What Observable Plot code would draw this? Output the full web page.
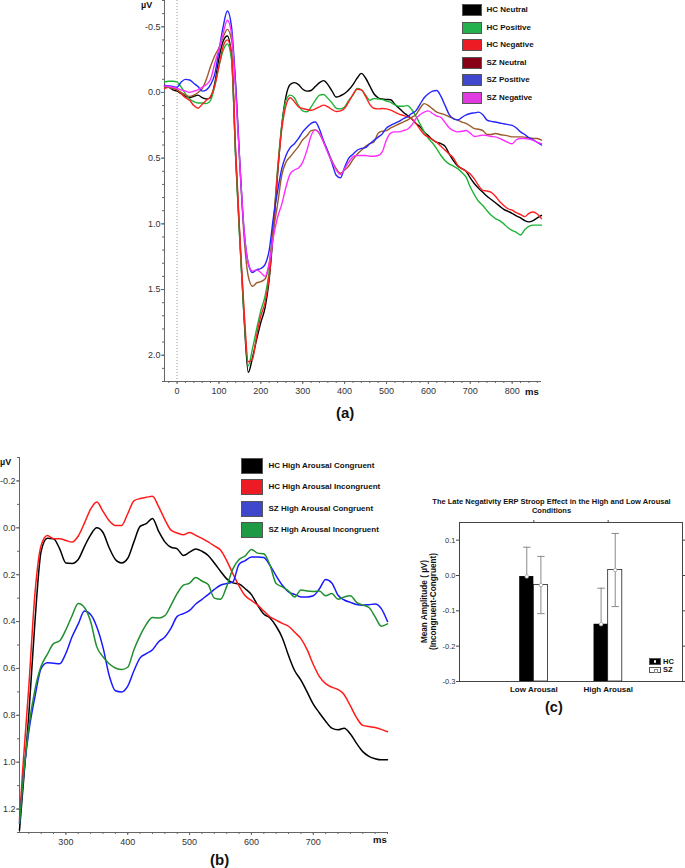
<!DOCTYPE html>
<html><head><meta charset="utf-8">
<script src="https://cdn.jsdelivr.net/npm/d3@7"></script>
<script src="https://cdn.jsdelivr.net/npm/@observablehq/plot@0.6"></script>
<style>
body{margin:0;background:#fff;font-family:"Liberation Sans",Arial,sans-serif;}
#page{position:relative;width:685px;height:868px;overflow:hidden;background:#fff;}
.abs{position:absolute;white-space:nowrap;}
.bold{font-weight:bold;color:#111;}
.sw{position:absolute;box-sizing:border-box;border:1px solid #555;}
</style></head><body><div id="page"></div>
<script>
// ---------- Panel (a) data ----------
const timesA = [-30,-20,-10,0,10,20,30,40,50,60,70,80,90,100,110,120,130,140,150,160,170,180,190,200,210,220,230,240,250,260,270,280,290,300,310,320,330,340,350,360,370,380,390,400,410,420,430,440,450,460,470,480,490,500,510,520,530,540,550,560,570,580,590,600,610,620,630,640,650,660,670,680,690,700,710,720,730,740,750,760,770,780,790,800,810,820,830,840,850,860,870];
const seriesA = ["HC Neutral","HC Positive","HC Negative","SZ Neutral","SZ Positive","SZ Negative"];
const lineColorsA = ["#000000","#1db336","#ff1f1f","#9b5a2a","#2424ff","#ff2eff"];
const swatchColorsA = ["#000000","#22b14c","#ed1c24","#880015","#3f48cc","#e03ae0"];
const hcNeutralA = [-0.05,-0.04,-0.02,-0.01,0.01,0.03,0.04,0.03,0.02,0.04,0.05,0.04,-0.07,-0.26,-0.39,-0.43,-0.28,0.5,1.12,1.72,2.13,2.02,1.88,1.75,1.64,1.42,1.05,0.62,0.25,0.03,-0.06,-0.075,-0.06,-0.025,-0.01,-0.015,-0.045,-0.075,-0.09,-0.06,-0.01,0.035,0.025,0.008,-0.02,-0.06,-0.11,-0.145,-0.11,-0.05,0.01,0.04,0.05,0.053,0.055,0.09,0.12,0.15,0.175,0.2,0.235,0.26,0.3,0.33,0.36,0.38,0.39,0.41,0.47,0.52,0.56,0.58,0.6,0.65,0.695,0.73,0.76,0.79,0.815,0.84,0.865,0.89,0.905,0.92,0.94,0.955,0.975,0.985,0.975,0.955,0.935];
const hcPositiveA = [-0.08,-0.085,-0.085,-0.08,-0.04,0.01,0.05,0.07,0.08,0.08,0.085,0.06,-0.05,-0.2,-0.32,-0.37,-0.25,0.5,1.15,1.7,2.08,1.95,1.8,1.66,1.55,1.36,1.0,0.58,0.25,0.06,0.02,0.04,0.1,0.14,0.147,0.11,0.06,0.02,0.015,0.045,0.08,0.12,0.125,0.11,0.06,0.02,-0.03,-0.02,0.02,0.06,0.046,0.05,0.055,0.065,0.075,0.095,0.105,0.105,0.1,0.13,0.18,0.24,0.3,0.35,0.385,0.43,0.48,0.52,0.545,0.56,0.58,0.61,0.645,0.72,0.78,0.83,0.86,0.9,0.935,0.96,0.975,1.0,1.03,1.05,1.065,1.085,1.045,1.02,1.01,1.01,1.01];
const hcNegativeA = [-0.03,-0.04,-0.03,-0.02,0.01,0.04,0.06,0.1,0.12,0.09,0.06,0.03,-0.05,-0.2,-0.35,-0.4,-0.3,0.45,1.1,1.66,2.05,2.03,1.85,1.7,1.6,1.4,1.02,0.6,0.28,0.1,0.04,0.07,0.11,0.122,0.13,0.135,0.125,0.11,0.096,0.11,0.13,0.145,0.14,0.12,0.07,0.015,-0.025,-0.02,0.03,0.09,0.12,0.125,0.122,0.125,0.135,0.15,0.165,0.175,0.185,0.2,0.235,0.28,0.32,0.34,0.36,0.38,0.41,0.44,0.47,0.5,0.555,0.58,0.6,0.62,0.66,0.71,0.745,0.75,0.76,0.79,0.83,0.86,0.885,0.896,0.915,0.93,0.945,0.92,0.91,0.925,0.96];
const szNeutralA = [-0.04,-0.04,-0.03,-0.02,0.0,0.02,0.03,0.02,0.0,-0.03,-0.1,-0.2,-0.28,-0.34,-0.42,-0.48,-0.4,-0.05,0.55,1.1,1.4,1.475,1.45,1.44,1.42,1.3,1.05,0.85,0.63,0.53,0.49,0.45,0.41,0.36,0.33,0.29,0.285,0.315,0.38,0.45,0.52,0.58,0.615,0.59,0.56,0.51,0.47,0.44,0.41,0.39,0.376,0.31,0.295,0.29,0.27,0.255,0.24,0.225,0.21,0.19,0.17,0.12,0.085,0.1,0.125,0.15,0.16,0.17,0.185,0.2,0.21,0.225,0.236,0.255,0.275,0.28,0.29,0.32,0.32,0.312,0.32,0.325,0.33,0.338,0.338,0.338,0.34,0.345,0.35,0.35,0.363];
const szPositiveA = [-0.055,-0.05,-0.045,-0.04,-0.08,-0.1,-0.095,-0.07,-0.045,-0.01,-0.02,-0.06,-0.14,-0.32,-0.5,-0.62,-0.5,-0.05,0.55,1.05,1.3,1.37,1.35,1.34,1.31,1.2,0.95,0.75,0.58,0.48,0.42,0.39,0.35,0.3,0.265,0.235,0.225,0.28,0.37,0.45,0.54,0.63,0.65,0.57,0.5,0.47,0.44,0.426,0.42,0.39,0.365,0.34,0.315,0.27,0.25,0.235,0.22,0.2,0.185,0.16,0.14,0.09,0.04,0.01,-0.01,-0.015,0.03,0.1,0.17,0.2,0.21,0.19,0.17,0.16,0.155,0.15,0.17,0.21,0.22,0.225,0.232,0.238,0.245,0.25,0.27,0.3,0.32,0.345,0.36,0.38,0.4];
const szNegativeA = [-0.05,-0.045,-0.04,-0.03,-0.02,-0.01,0.0,-0.01,-0.02,-0.04,-0.06,-0.1,-0.22,-0.33,-0.45,-0.55,-0.45,0.0,0.55,1.05,1.3,1.36,1.35,1.37,1.4,1.3,1.1,0.95,0.85,0.72,0.62,0.59,0.575,0.53,0.44,0.33,0.285,0.31,0.38,0.46,0.53,0.59,0.625,0.58,0.53,0.49,0.48,0.48,0.48,0.485,0.485,0.48,0.45,0.36,0.31,0.3,0.3,0.29,0.28,0.25,0.2,0.17,0.15,0.14,0.16,0.18,0.19,0.23,0.27,0.29,0.3,0.295,0.29,0.31,0.335,0.33,0.325,0.328,0.335,0.338,0.35,0.365,0.38,0.39,0.36,0.35,0.35,0.355,0.365,0.38,0.39];
const xTicksA = [0,100,200,300,400,500,600,700,800];
const yTicksA = [-0.5,0.0,0.5,1.0,1.5,2.0];

// ---------- Panel (b) data ----------
const timesB = [225,230,240,250,260,270,280,290,300,310,320,330,340,350,360,370,380,390,400,410,420,430,440,450,460,470,480,490,500,510,520,530,540,550,560,570,580,590,600,610,620,630,640,650,660,670,680,690,700,710,720,730,740,750,760,770,780,790,800,810,820];
const seriesB = ["HC High Arousal Congruent","HC High Arousal Incongruent","SZ High Arousal Congruent","SZ High Arousal Incongruent"];
const lineColorsB = ["#000000","#ff1a1a","#1a1aff","#1f8f2f"];
const swatchColorsB = ["#000000","#ed1c24","#3f48cc","#1e9a45"];
const hcCongB = [1.29,1.13,0.8,0.4,0.1,0.045,0.047,0.09,0.15,0.152,0.135,0.08,0.03,0.0,0.02,0.085,0.135,0.15,0.13,0.06,-0.006,-0.018,-0.04,0.015,0.06,0.083,0.09,0.118,0.104,0.09,0.1,0.118,0.15,0.185,0.218,0.235,0.24,0.26,0.285,0.33,0.368,0.385,0.42,0.47,0.545,0.61,0.65,0.7,0.752,0.79,0.825,0.855,0.862,0.855,0.88,0.92,0.955,0.975,0.985,0.99,0.99];
const hcIncB = [1.245,1.04,0.68,0.28,0.075,0.033,0.047,0.047,0.054,0.061,0.035,-0.02,-0.08,-0.11,-0.07,-0.03,-0.01,-0.01,-0.06,-0.115,-0.125,-0.13,-0.135,-0.09,-0.035,0.01,0.022,0.03,0.02,0.032,0.045,0.06,0.077,0.095,0.14,0.196,0.248,0.29,0.31,0.33,0.355,0.38,0.394,0.408,0.42,0.446,0.473,0.52,0.583,0.635,0.665,0.68,0.69,0.712,0.76,0.81,0.843,0.848,0.852,0.86,0.87];
const szCongB = [1.26,1.1,0.87,0.72,0.6,0.576,0.578,0.58,0.535,0.465,0.41,0.355,0.37,0.423,0.51,0.63,0.695,0.7,0.675,0.61,0.555,0.537,0.52,0.486,0.466,0.428,0.378,0.366,0.352,0.325,0.305,0.285,0.263,0.245,0.238,0.231,0.155,0.14,0.125,0.124,0.127,0.16,0.205,0.245,0.273,0.284,0.295,0.295,0.29,0.26,0.22,0.235,0.288,0.308,0.318,0.327,0.33,0.328,0.325,0.345,0.4];
const szIncB = [1.26,1.1,0.85,0.69,0.59,0.54,0.494,0.482,0.435,0.375,0.323,0.34,0.4,0.508,0.55,0.58,0.598,0.605,0.595,0.52,0.46,0.412,0.383,0.385,0.375,0.33,0.28,0.245,0.236,0.212,0.227,0.242,0.3,0.305,0.25,0.175,0.135,0.12,0.092,0.108,0.111,0.16,0.238,0.252,0.27,0.295,0.265,0.27,0.272,0.27,0.29,0.28,0.305,0.295,0.29,0.318,0.33,0.34,0.38,0.42,0.41];
const xTicksB = [300,400,500,600,700];
const yTicksB = [-0.2,0.0,0.2,0.4,0.6,0.8,1.0,1.2];

// ---------- Panel (c) data ----------
const arousalC = ["Low Arousal","High Arousal"];
const groupsC = ["HC","SZ"];
const meanHC = [-0.003,-0.138];
const meanSZ = [-0.027,0.0155];
const errHC = [0.083,0.102];
const errSZ = [0.081,0.1035];
const yTicksC = [-0.3,-0.2,-0.1,0.0,0.1];
const titleC = ["The Late Negativity ERP Stroop Effect in the High and Low Arousal","Conditions"];
const yLabelC = ["Mean Amplitude ( µV)","(Incongruent-Congruent)"];

const page = document.getElementById("page");
function addText(txt, left, top, cls, style){
  const d = document.createElement("div");
  d.className = "abs " + (cls||"");
  d.textContent = txt;
  d.style.left = left + "px"; d.style.top = top + "px";
  Object.assign(d.style, style||{});
  page.appendChild(d); return d;
}
function place(svg, left, top){
  const w = document.createElement("div");
  w.style.position = "absolute"; w.style.left = left+"px"; w.style.top = top+"px";
  w.appendChild(svg); page.appendChild(w);
}
const range = (lo, hi, st) => d3.range(Math.round(lo/st), Math.round(hi/st)+1).map(k => +(k*st).toFixed(4));

// ---------- Panel (a) ----------
const valuesA = [hcNeutralA,hcPositiveA,hcNegativeA,szNeutralA,szPositiveA,szNegativeA];
const rowsA = seriesA.flatMap((s,i) => timesA.map((t,j) => ({t, v: valuesA[i][j], s})));
const axisStroke = "#666";
const plotA = Plot.plot({
  width: 685, height: 400, marginLeft: 164, marginRight: 144, marginTop: 0, marginBottom: 19,
  style: {fontFamily: "Liberation Sans, Arial, sans-serif", fontSize: "9px", color: "#333", background: "transparent", overflow: "visible"},
  x: {domain: [-30, 870]},
  y: {domain: [-0.7, 2.2], reverse: true},
  color: {domain: seriesA, range: lineColorsA},
  marks: [
    Plot.ruleX([0], {stroke: "#999", strokeDasharray: "1,2", strokeWidth: 1}),
    Plot.axisX(range(-20, 860, 20), {tickSize: 2, tickFormat: () => "", stroke: axisStroke, label: null}),
    Plot.axisX(xTicksA, {tickSize: 3, tickPadding: 3, tickFormat: d => String(d), stroke: axisStroke, label: null}),
    Plot.axisY(range(-0.7, 2.2, 0.1), {tickSize: 2, tickFormat: () => "", stroke: axisStroke, label: null}),
    Plot.axisY(yTicksA, {tickSize: 3, tickPadding: 1, tickFormat: d => d.toFixed(1), stroke: axisStroke, label: null}),
    Plot.ruleX([-30], {stroke: axisStroke}),
    Plot.ruleY([2.2], {stroke: axisStroke}),
    Plot.lineY(rowsA, {x: "t", y: "v", z: "s", stroke: "s", strokeWidth: 1.4, curve: "monotone-x"})
  ]
});
place(plotA, 0, 0);
addText("µV", 141, 0, "bold", {fontSize: "9px"});
addText("ms", 525, 386, "bold", {fontSize: "9.5px"});
addText("(a)", 336, 404, "bold", {fontSize: "15px"});
const legAy = [10, 27.5, 45, 62.5, 80, 97.5];
seriesA.forEach((s,i) => {
  const b = document.createElement("div"); b.className = "sw";
  Object.assign(b.style, {left: "461.5px", top: (legAy[i]-6)+"px", width: "20px", height: "12px", background: swatchColorsA[i]});
  page.appendChild(b);
  addText(s, 486.5, legAy[i]-5, "bold", {fontSize: "8px", lineHeight: "10px"});
});

// ---------- Panel (b) ----------
const valuesB = [hcCongB, hcIncB, szCongB, szIncB];
const rowsB = seriesB.flatMap((s,i) => timesB.map((t,j) => ({t, v: valuesB[i][j], s})));
const plotB = Plot.plot({
  width: 400, height: 415, marginLeft: 19, marginRight: 13, marginTop: 17, marginBottom: 23,
  style: {fontFamily: "Liberation Sans, Arial, sans-serif", fontSize: "9px", color: "#333", background: "transparent", overflow: "visible"},
  x: {domain: [225, 820]},
  y: {domain: [-0.3, 1.3], reverse: true},
  color: {domain: seriesB, range: lineColorsB},
  marks: [
    Plot.axisX(range(240, 820, 20), {tickSize: 2, tickFormat: () => "", stroke: axisStroke, label: null}),
    Plot.axisX(xTicksB, {tickSize: 3, tickPadding: 3, tickFormat: d => String(d), stroke: axisStroke, label: null}),
    Plot.axisY(range(-0.3, 1.3, 0.1), {tickSize: 2, tickFormat: () => "", stroke: axisStroke, label: null}),
    Plot.axisY(yTicksB, {tickSize: 3, tickPadding: 1, tickFormat: d => d.toFixed(1), stroke: axisStroke, label: null}),
    Plot.ruleX([225], {stroke: axisStroke}),
    Plot.ruleY([1.3], {stroke: axisStroke}),
    Plot.lineY(rowsB, {x: "t", y: "v", z: "s", stroke: "s", strokeWidth: 1.5, curve: "monotone-x"})
  ]
});
place(plotB, 0, 440);
addText("µV", 0, 457, "bold", {fontSize: "9px"});
addText("ms", 373, 834, "bold", {fontSize: "9.5px"});
addText("(b)", 210, 851, "bold", {fontSize: "15px"});
const legBy = [466, 486.5, 509, 530];
seriesB.forEach((s,i) => {
  const b = document.createElement("div"); b.className = "sw";
  Object.assign(b.style, {left: "240.5px", top: (legBy[i]-8)+"px", width: "22px", height: "16px", background: swatchColorsB[i]});
  page.appendChild(b);
  addText(s, 268.5, legBy[i]-5, "bold", {fontSize: "8px", lineHeight: "10px"});
});

// ---------- Panel (c) ----------
const halfW = 0.19;
const rowsC = arousalC.flatMap((a,i) => [
  {a, g: groupsC[0], x1: i+1-halfW, x2: i+1, m: meanHC[i], e: errHC[i]},
  {a, g: groupsC[1], x1: i+1, x2: i+1+halfW, m: meanSZ[i], e: errSZ[i]}
]).map(d => ({...d, xc: (d.x1+d.x2)/2}));
const capW = 0.05;
const yMinC = -0.3;
const plotC = Plot.plot({
  width: 285, height: 215, marginLeft: 59, marginRight: 3, marginTop: 32, marginBottom: 24,
  style: {fontFamily: "Liberation Sans, Arial, sans-serif", fontSize: "7.5px", color: "#333", background: "transparent", overflow: "visible"},
  x: {domain: [0, 3]},
  y: {domain: [yMinC, 0.15]},
  marks: [
    Plot.ruleX(rowsC, {x: "xc", y1: d => d.m - d.e, y2: d => d.m + d.e, stroke: "#8a8a8a", strokeWidth: 1}),
    Plot.link(rowsC, {x1: d => d.xc - capW, x2: d => d.xc + capW, y1: d => d.m + d.e, y2: d => d.m + d.e, stroke: "#8a8a8a"}),
    Plot.link(rowsC, {x1: d => d.xc - capW, x2: d => d.xc + capW, y1: d => d.m - d.e, y2: d => d.m - d.e, stroke: "#8a8a8a"}),
    Plot.rect(rowsC.filter(d => d.g === "HC"), {x1: "x1", x2: "x2", y1: () => yMinC, y2: "m", fill: "#000"}),
    Plot.rect(rowsC.filter(d => d.g === "SZ"), {x1: "x1", x2: "x2", y1: () => yMinC, y2: "m", fill: "none", stroke: "#222", strokeWidth: 0.8}),
    Plot.dot(rowsC, {x: "xc", y: "m", r: 1.8, fill: "#fff", stroke: "#999", strokeWidth: 0.7}),
    Plot.frame({stroke: "#444"}),
    Plot.axisY(yTicksC, {tickSize: 3, tickPadding: 1, tickFormat: d => d.toFixed(1), stroke: "#444", label: null}),
    Plot.axisY(yTicksC, {anchor: "right", tickSize: 3, tickFormat: () => "", stroke: "#444", label: null}),
    Plot.axisX([1, 2], {anchor: "top", tickSize: 3, tickFormat: () => "", stroke: "#444", label: null}),
    Plot.axisX([1, 2], {tickSize: 0, tickPadding: 5, tickFormat: i => arousalC[i-1], fontWeight: "bold", fontSize: 8, fill: "#111", label: null})
  ]
});
place(plotC, 400, 490);
titleC.forEach((t, k) => addText(t, 418, 497 + k*9.3, "bold", {fontSize: "7.5px", lineHeight: "9.3px", width: "267px", textAlign: "center"}));
const yl = document.createElement("div");
yl.className = "abs bold";
Object.assign(yl.style, {left: (428.7-70)+"px", top: (601.7-9.5)+"px", width: "140px", height: "19px", fontSize: "8.2px", lineHeight: "9.4px", textAlign: "center", transform: "rotate(-90deg)", transformOrigin: "50% 50%"});
yLabelC.forEach(t => { const s = document.createElement("div"); s.textContent = t; yl.appendChild(s); });
page.appendChild(yl);
// legend (c)
const legC = [{y: 658.3, fill: "#000", inner: "dot"}, {y: 666.7, fill: "#fff", inner: "sq"}];
groupsC.forEach((g, i) => {
  const b = document.createElement("div"); b.className = "sw";
  Object.assign(b.style, {left: "648.5px", top: legC[i].y+"px", width: "12px", height: "6.5px", background: legC[i].fill, borderColor: "#555"});
  const c = document.createElement("div");
  Object.assign(c.style, {position: "absolute", left: "4px", top: "1px", width: "2.5px", height: "2.5px", background: i === 0 ? "#fff" : "none", border: i === 0 ? "none" : "0.7px solid #888", borderRadius: i === 0 ? "50%" : "0"});
  b.appendChild(c);
  page.appendChild(b);
  addText(g, 663, legC[i].y - 1.5, "bold", {fontSize: "7.5px", lineHeight: "9px"});
});
addText("(c)", 545, 699, "bold", {fontSize: "14.5px"});
</script></body></html>
